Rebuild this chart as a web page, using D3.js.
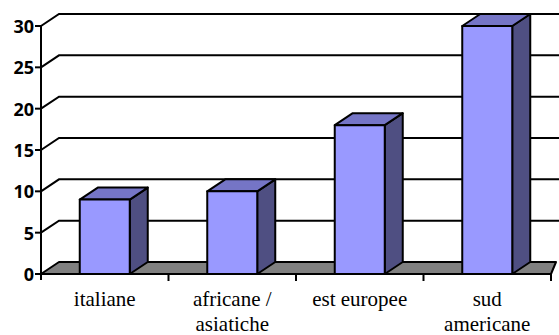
<!DOCTYPE html>
<html>
<head>
<meta charset="utf-8">
<script src="https://cdn.jsdelivr.net/npm/d3@7"></script>
<style>
  html, body { margin: 0; padding: 0; background: #fff; }
  svg { display: block; }
  .ylab { font-family: "Open Sans", sans-serif; font-weight: bold; font-size: 18px; }
  .xlab { font-size: 21px; }
</style>
</head>
<body>
<svg id="chart" width="559" height="335"></svg>
<script>
// Chart data
const categories = ["italiane", "africane / asiatiche", "est europee", "sud americane"];
const categoryLines = [["italiane"], ["africane /", "asiatiche"], ["est europee"], ["sud", "americane"]];
const values = [9, 10, 18, 30];
const yTicks = [0, 5, 10, 15, 20, 25, 30];

const svg = d3.select("#chart");

// Plot frame (front plane) and 3D depth offset
const plotLeft = 41, plotRight = 551, plotTop = 26, plotBottom = 274;
const dx = 18, dy = 12;

const x = d3.scaleBand().domain(categories).range([plotLeft, plotRight]);
const y = d3.scaleLinear().domain([0, 30]).range([plotBottom, plotTop]);

const barW = 50;

// Gridlines on the back wall, joined to the front axis by a diagonal
const grid = svg.append("g");
yTicks.filter(t => t > 0).forEach(t => {
  grid.append("path")
    .attr("d", `M${plotLeft},${y(t)} L${plotLeft + dx},${y(t) - dy} L559,${y(t) - dy}`)
    .attr("fill", "none").attr("stroke", "#000").attr("stroke-width", 2);
});

// Floor
svg.append("path")
  .attr("d", `M${plotLeft},${plotBottom} L${plotLeft + dx},${plotBottom - dy} L556,${plotBottom - dy} L${plotRight},${plotBottom} Z`)
  .attr("fill", "#808080").attr("stroke", "#000").attr("stroke-width", 2)
  .attr("stroke-linejoin", "round");

// Bars: side, top and front faces
const bars = svg.append("g");
categories.forEach((c, i) => {
  const cx = x(c) + x.bandwidth() / 2;
  const x0 = cx - barW / 2, x1 = cx + barW / 2;
  const yv = y(values[i]), y0 = y(0);
  const g = bars.append("g").attr("stroke", "#000").attr("stroke-width", 2).attr("stroke-linejoin", "round");
  g.append("path")
    .attr("d", `M${x1},${yv} L${x1 + dx},${yv - dy} L${x1 + dx},${y0 - dy} L${x1},${y0} Z`)
    .attr("fill", "#4F4F82");
  g.append("path")
    .attr("d", `M${x0},${yv} L${x0 + dx},${yv - dy} L${x1 + dx},${yv - dy} L${x1},${yv} Z`)
    .attr("fill", "#7575C6");
  g.append("rect")
    .attr("x", x0).attr("y", yv).attr("width", barW).attr("height", y0 - yv)
    .attr("fill", "#9999FF");
});

// Y axis
const yAxis = svg.append("g");
yAxis.append("line")
  .attr("x1", plotLeft).attr("x2", plotLeft).attr("y1", plotTop).attr("y2", plotBottom + 6)
  .attr("stroke", "#000").attr("stroke-width", 2);
yTicks.forEach(t => {
  yAxis.append("line")
    .attr("x1", plotLeft - 6).attr("x2", plotLeft).attr("y1", y(t)).attr("y2", y(t))
    .attr("stroke", "#000").attr("stroke-width", 2);
  yAxis.append("text")
    .attr("class", "ylab")
    .attr("x", plotLeft - 7).attr("y", y(t))
    .attr("text-anchor", "end").attr("dominant-baseline", "central")
    .attr("fill", "#000")
    .text(t);
});

// X axis
const xAxis = svg.append("g");
xAxis.append("line")
  .attr("x1", plotLeft).attr("x2", plotRight).attr("y1", plotBottom).attr("y2", plotBottom)
  .attr("stroke", "#000").attr("stroke-width", 2);
categories.forEach(c => {
  const xe = x(c) + x.bandwidth();
  xAxis.append("line")
    .attr("x1", xe).attr("x2", xe).attr("y1", plotBottom).attr("y2", plotBottom + 7)
    .attr("stroke", "#000").attr("stroke-width", 2);
});
categories.forEach((c, i) => {
  const t = xAxis.append("text")
    .attr("class", "xlab")
    .attr("font-family", "Liberation Serif")
    .style("font-family", "Liberation Serif")
    .attr("text-anchor", "middle")
    .attr("fill", "#000");
  categoryLines[i].forEach((ln, j) => {
    t.append("tspan").attr("x", x(c) + x.bandwidth() / 2).attr("y", 306 + j * 25).text(ln);
  });
});
</script>
</body>
</html>
